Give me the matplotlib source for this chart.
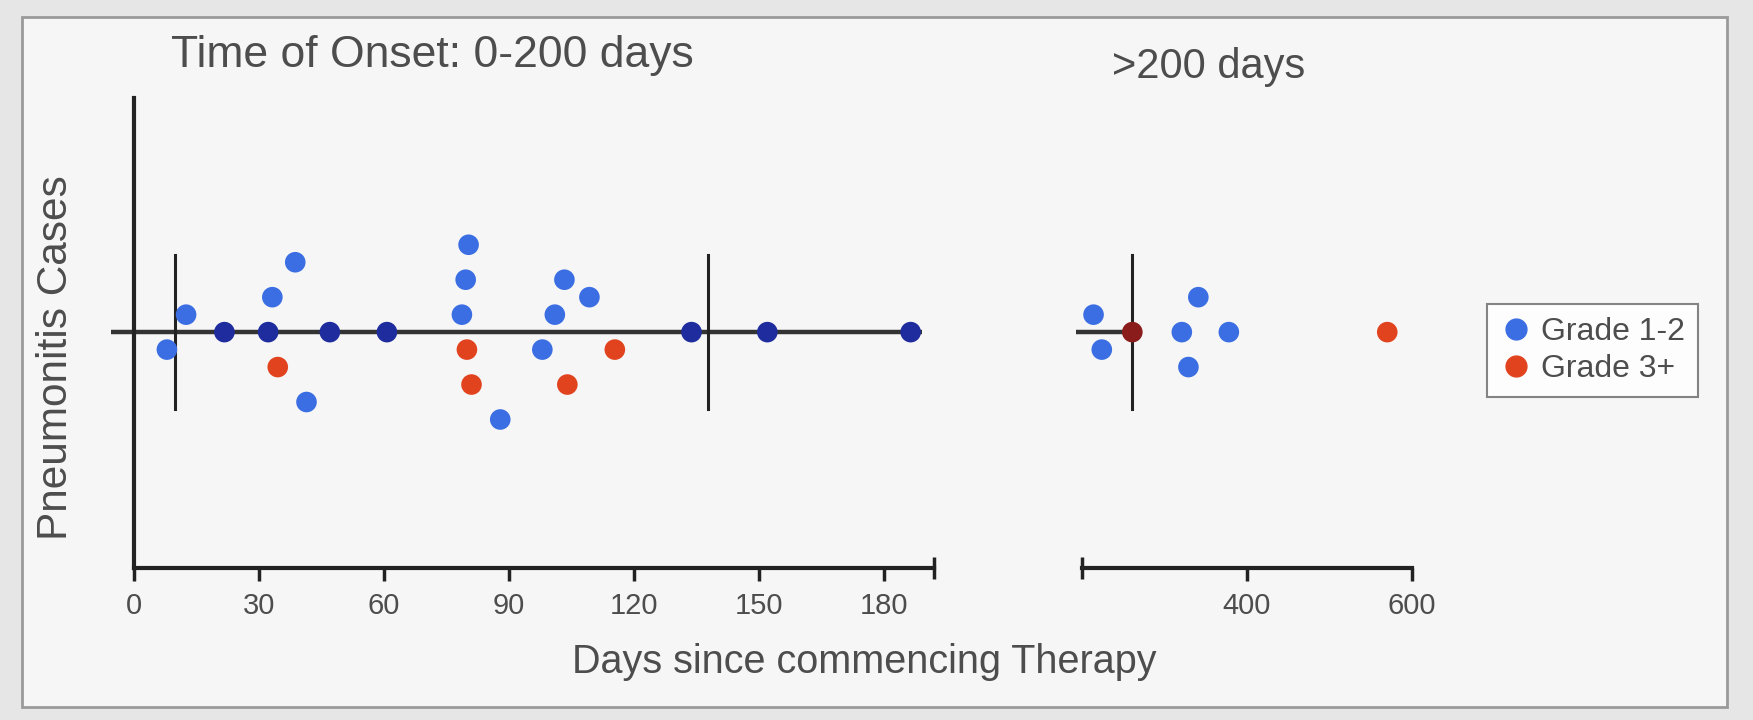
import matplotlib
matplotlib.use("Agg")
import matplotlib.pyplot as plt
import numpy as np
from matplotlib.patches import Rectangle
from matplotlib.lines import Line2D

plt.rcParams['font.family'] = ['Liberation Sans', 'DejaVu Sans']

# ---- data (days since commencing therapy, swarm offset level, grade) ----
left_days = [7.9, 12.5, 21.7, 32.2, 33.2, 38.7, 34.5, 41.4, 47.0, 60.7,
             80.3, 79.6, 78.7, 79.9, 81.0, 87.9, 98.0, 101.0, 103.3, 104.0,
             109.3, 115.4, 133.8, 152.0, 186.4]
left_levels = [-1, 1, 0, 0, 2, 4, -2, -4, 0, 0,
               5, 3, 1, -1, -3, -5, -1, 1, 3, -3,
               2, -1, 0, 0, 0]
left_grade = ['1-2', '1-2', '1-2', '1-2', '1-2', '1-2', '3+', '1-2', '1-2', '1-2',
              '1-2', '1-2', '1-2', '3+', '3+', '1-2', '1-2', '1-2', '1-2', '3+',
              '1-2', '3+', '1-2', '1-2', '1-2']

right_days = [214, 224, 261, 341, 321, 378, 329, 570]
right_levels = [1, -1, 0, 2, 0, 0, -2, 0]
right_grade = ['1-2', '1-2', '3+', '1-2', '1-2', '1-2', '1-2', '3+']

left_markers = [9.9, 137.8]
right_markers = [261]
left_line = (-5.5, 189)
right_line = (193, 261)

left_ticks = [0, 30, 60, 90, 120, 150, 180]
right_ticks = [400, 600]
left_xlim = (0, 192)
right_xlim = (200, 600)

colors = {'1-2': '#3b6ee3', '3+': '#e2431f'}
dark_colors = {'1-2': '#1f2c9e', '3+': '#8a1c1c'}
labels = {'1-2': 'Grade 1-2', '3+': 'Grade 3+'}

W, H = 1753, 720
fig = plt.figure(figsize=(W / 100, H / 100), dpi=100)
fig.patch.set_facecolor('#e6e6e6')
fig.patches.append(Rectangle((22 / W, 1 - 707 / H), (1727 - 22) / W, (707 - 17) / H,
                             transform=fig.transFigure, fc='#f6f6f6', ec='#9a9a9a',
                             lw=2, zorder=-10))

bottom = 1 - 568 / H
height = 470 / H
axL = fig.add_axes([134 / W, bottom, (934 - 134) / W, height])
axR = fig.add_axes([1082 / W, bottom, (1412 - 1082) / W, height])

ylim = (-13.5, 13.4)
axis_col = '#222222'
text_col = '#4d4d4d'


def draw(ax, days, levels, grades, markers, line, xlim, ticks):
    ax.set_facecolor('none')
    ax.set_xlim(*xlim)
    ax.set_ylim(*ylim)
    days = np.array(days, float)
    levels = np.array(levels, float)
    grades = np.array(grades)
    ax.plot(line, [0, 0], color='#333333', lw=3.2, zorder=2, clip_on=False,
            solid_capstyle='butt')
    for m in markers:
        ax.plot([m, m], [-4.4, 4.4], color=axis_col, lw=2.2, zorder=2, clip_on=False)
    for g in ['1-2', '3+']:
        sel = grades == g
        on = sel & (levels == 0) & (days >= line[0]) & (days <= line[1])
        off = sel & ~on
        for mask, col in [(off, colors[g]), (on, dark_colors[g])]:
            if mask.any():
                ax.scatter(days[mask], levels[mask], s=220, color=col, edgecolors='none',
                           zorder=3, clip_on=False)
    for s in ['top', 'right']:
        ax.spines[s].set_visible(False)
    ax.spines['bottom'].set_linewidth(3)
    ax.spines['bottom'].set_color(axis_col)
    ax.set_xticks(ticks)
    ax.set_xticklabels([str(t) for t in ticks])
    ax.set_yticks([])
    ax.tick_params(axis='x', direction='out', length=9, width=2.5, color=axis_col,
                   labelsize=21, labelcolor=text_col, pad=8)


draw(axL, left_days, left_levels, left_grade, left_markers, left_line, left_xlim, left_ticks)
draw(axR, right_days, right_levels, right_grade, right_markers, right_line, right_xlim, right_ticks)

axL.spines['left'].set_linewidth(3)
axL.spines['left'].set_color(axis_col)
axR.spines['left'].set_visible(False)

# end caps on the axis lines
axL.plot([left_xlim[1]], [ylim[0]], marker='|', ms=16, mew=2.5, color=axis_col, clip_on=False)
axR.plot([right_xlim[0]], [ylim[0]], marker='|', ms=16, mew=2.5, color=axis_col, clip_on=False)

fig.text(171 / W, 1 - 56 / H, 'Time of Onset: 0-200 days', ha='left', va='center',
         fontsize=32, color=text_col)
fig.text(1112 / W, 1 - 67 / H, '>200 days', ha='left', va='center',
         fontsize=30, color=text_col)
fig.text(864 / W, 1 - 662 / H, 'Days since commencing Therapy', ha='center', va='center',
         fontsize=28.5, color=text_col)
fig.text(56 / W, 1 - 358 / H, 'Pneumonitis Cases', ha='center', va='center',
         rotation=90, fontsize=30.5, color=text_col)

handles = [Line2D([], [], ls='none', marker='o', ms=15, color=colors[g], label=labels[g])
           for g in ['1-2', '3+']]
leg = fig.legend(handles=handles, loc='upper left', bbox_to_anchor=(1487 / W, 1 - 304 / H),
                 frameon=True, fancybox=False, fontsize=23, handletextpad=0.3,
                 handlelength=1.0, borderpad=0.4, labelspacing=0.22, borderaxespad=0)
leg.get_frame().set_edgecolor('#666666')
leg.get_frame().set_linewidth(1.5)
leg.get_frame().set_facecolor('white')
for t in leg.get_texts():
    t.set_color(text_col)

fig.savefig('out.png', dpi=100, facecolor=fig.get_facecolor())
